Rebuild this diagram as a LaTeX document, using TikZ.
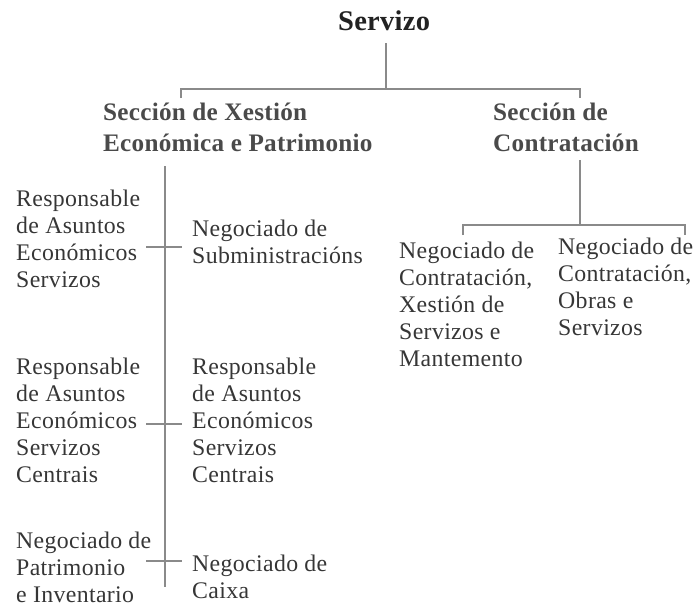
\documentclass[tikz,border=0pt]{standalone}
\usepackage{fontspec}
\setmainfont{Liberation Serif}
\newfontfamily\bodyfont{Liberation Serif}[LetterSpace=1.5]
\newfontfamily\headfont{Liberation Serif}[LetterSpace=1.0]
\definecolor{linegray}{HTML}{8A8A8A}
\definecolor{headgray}{HTML}{4A4A4A}
\definecolor{bodygray}{HTML}{363636}
\definecolor{topblack}{HTML}{222222}
\tikzset{
  conn/.style={draw=linegray, line width=1.3pt},
  toptext/.style={inner sep=0pt, anchor=base west, text=topblack, font=\headfont\fontsize{28.5}{30}\selectfont\bfseries},
  headtext/.style={inner sep=0pt, anchor=base west, align=left, text=headgray, font=\headfont\fontsize{25.2}{30.5}\selectfont\bfseries},
  bodytext/.style={inner sep=0pt, anchor=base west, align=left, text=bodygray, font=\bodyfont\fontsize{23.8}{26.8}\selectfont}
}
\begin{document}
\begin{tikzpicture}[x=1pt,y=1pt]
\useasboundingbox (0,0) rectangle (698,-606);
% texts (anchor: baseline of the last line)
\node[toptext] (servizo) at (338,-30) {Servizo};
\node[headtext] (secA) at (103,-151) {Sección de Xestión\\Económica e Patrimonio};
\node[headtext] (secB) at (493,-151) {Sección de\\Contratación};
\node[bodytext] (l1) at (16,-287) {Responsable\\de Asuntos\\Económicos\\Servizos};
\node[bodytext] (r1) at (192,-263) {Negociado de\\Subministracións};
\node[bodytext] (l2) at (16,-482) {Responsable\\de Asuntos\\Económicos\\Servizos\\Centrais};
\node[bodytext] (r2) at (192,-482) {Responsable\\de Asuntos\\Económicos\\Servizos\\Centrais};
\node[bodytext] (l3) at (16,-602) {Negociado de\\Patrimonio\\e Inventario};
\node[bodytext] (r3) at (192,-598) {Negociado de\\Caixa};
\node[bodytext] (c1) at (399,-366) {Negociado de\\Contratación,\\Xestión de\\Servizos e\\Mantemento};
\node[bodytext] (c2) at (558,-335) {Negociado de\\Contratación,\\Obras e\\Servizos};
% junction coordinates
\coordinate (t0) at (386,-43);
\coordinate (t1) at (386,-89);
\coordinate (tl) at (181,-89);
\coordinate (tr) at (580,-89);
\coordinate (tla) at (181,-98);
\coordinate (tra) at (580,-98);
\coordinate (v0) at (165,-166);
\coordinate (v1) at (165,-587);
\coordinate (k1) at (165,-247);
\coordinate (k2) at (165,-424);
\coordinate (k3) at (165,-561);
\coordinate (b0) at (580,-160);
\coordinate (b1) at (580,-225);
\coordinate (bl) at (463,-225);
\coordinate (br) at (685,-225);
\coordinate (bla) at (463,-235);
\coordinate (bra) at (685,-235);
% connectors
\draw[conn] (t0) -- (t1);
\draw[conn] (tla) -- (tl) -- (tr) -- (tra);
\draw[conn] (v0) -- (v1);
\draw[conn] ([xshift=-19pt]k1) -- ([xshift=17pt]k1);
\draw[conn] ([xshift=-19pt]k2) -- ([xshift=17pt]k2);
\draw[conn] ([xshift=-19pt]k3) -- ([xshift=17pt]k3);
\draw[conn] (b0) -- (b1);
\draw[conn] (bla) -- (bl) -- (br) -- (bra);
\end{tikzpicture}
\end{document}
